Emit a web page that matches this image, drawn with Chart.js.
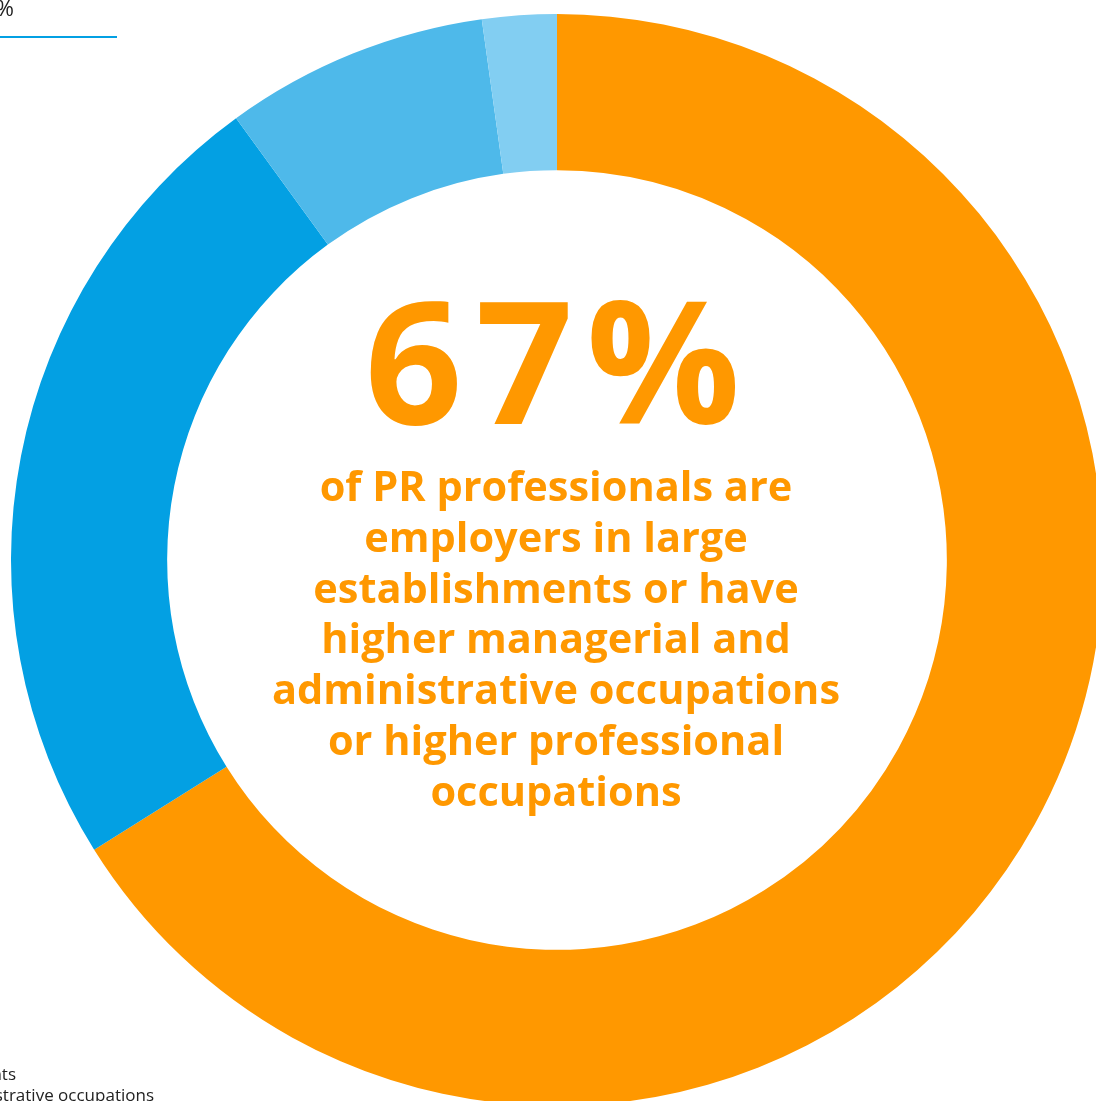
<!DOCTYPE html>
<html>
<head>
<meta charset="utf-8">
<script src="https://cdn.jsdelivr.net/npm/chart.js@4"></script>
<style>
  html, body { margin: 0; padding: 0; width: 1096px; height: 1101px; overflow: hidden; background: #fff; }
  #wrap { position: absolute; left: 11px; top: 14px; width: 1092px; height: 1092px; }
  .big { position: absolute; left: 209px; width: 700px; top: 258px; text-align: center;
         font-family: "Open Sans", Lato, sans-serif; font-weight: 700; font-size: 171px; line-height: 200px;
         color: #FF9800; letter-spacing: 13px; }
  .sub { position: absolute; left: 206px; width: 700px; top: 460px; text-align: center;
         font-family: "Open Sans", Lato, sans-serif; font-weight: 700; font-size: 41.5px; line-height: 50.8px;
         color: #FF9800; }
  .leg { position: absolute; font-family: "Open Sans", "Noto Sans", sans-serif; font-size: 17px; color: #222; white-space: nowrap; text-align: right; }
</style>
</head>
<body>
<div id="wrap"><canvas id="myChart"></canvas></div>

<div class="leg" style="left:-300px; width:314px; top:-8px; font-size:22px;">67%</div>
<div style="position:absolute; left:0; top:36px; width:117px; height:2px; background:#03A0E3;"></div>
<div class="leg" style="left:-400px; width:416px; top:1062px;">Employers in large establishments</div>
<div class="leg" style="left:-300px; width:454px; top:1083px;">Higher managerial and administrative occupations</div>

<div class="big">67%</div>
<div class="sub">of PR professionals are<br>employers in large<br>establishments or have<br>higher managerial and<br>administrative occupations<br>or higher professional<br>occupations</div>

<script>
const labels = [
  'Higher managerial, administrative and professional occupations',
  'Lower managerial, administrative and professional occupations',
  'Intermediate occupations',
  'Small employers and own account workers'
]
const values = [66.1, 23.9, 7.8, 2.2]
const colours = ['#FF9800', '#03A0E3', '#4EB9EA', '#82CEF2']

const ctx = document.getElementById('myChart')

const myChart = new Chart(ctx, {
  type: 'doughnut',
  data: {
    labels: labels,
    datasets: [{
      data: values,
      backgroundColor: colours,
      borderWidth: 0,
      hoverOffset: 0
    }]
  },
  options: {
    responsive: true,
    maintainAspectRatio: false,
    animation: false,
    cutout: '71.4%',
    layout: { padding: 0 },
    plugins: {
      legend: { display: false },
      tooltip: { enabled: false }
    }
  }
})
</script>
</body>
</html>
